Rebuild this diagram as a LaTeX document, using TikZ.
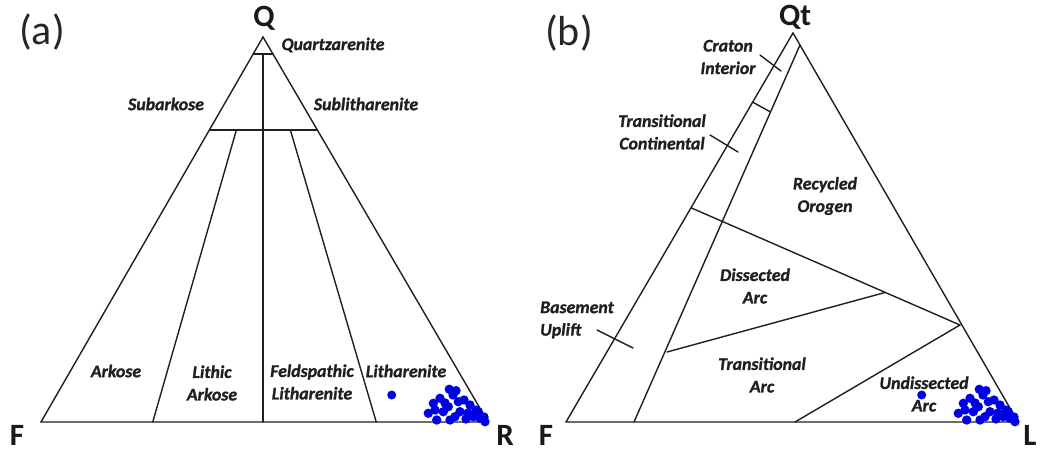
\documentclass[tikz,border=0pt]{standalone}
\usepackage{fontspec}
\setmainfont{Carlito}
\newfontfamily\labfont[FakeBold=1.2]{Carlito}
\usetikzlibrary{calc}
\begin{document}
\begin{tikzpicture}[x=1pt,y=-1pt,
  edge/.style={line width=1.4pt, draw=black!88, line cap=round},
  lab/.style={font=\labfont\fontsize{17.8}{22.5}\selectfont\bfseries\itshape, text=black!88, align=center, inner sep=0pt},
  corner/.style={font=\fontsize{31}{31}\selectfont\bfseries, text=black!90, anchor=base, inner sep=0pt},
  panel/.style={font=\fontsize{42}{42}\selectfont, text=black!85, inner sep=0pt},
  dot/.style={fill=blue!90!black, draw=none},
  cluster/.pic={
    \foreach \dx/\dy in {-38.7/-32.7,-32/-31.3,-48/-23.7,-54.7/-18.7,-59.7/-8.7,-51.3/-2,-39.7/-15.3,-29.7/-20.3,-28/-10.3,-38/-2,-18/-17,-14.7/-5.3,-8/-3.7,-3/-0.3,-44.7/-10.3,-33/-5.3,-9.7/-10.3,-20/-9,-24/-22,-4/-5,-35/-27,-43/-19,-53/-12,-22/-3,-12/-12}
      {\fill[dot] (\dx,\dy) circle (4.7);}
    \fill[dot] (-96.3,-27) circle (4.5);
  }]
\useasboundingbox (0,0) rectangle (1041,452);

% ---------- panel (a) ----------
\coordinate (Qa) at (263,37);
\coordinate (Fa) at (41,422);
\coordinate (Ra) at (488,422);
\coordinate (qL) at ($(Qa)!0.0442!(Fa)$);
\coordinate (qR) at ($(Qa)!0.0442!(Ra)$);
\coordinate (mL) at ($(Qa)!0.2416!(Fa)$);
\coordinate (mR) at ($(Qa)!0.2416!(Ra)$);
\coordinate (vT) at ($(qL)!0.5!(qR)$);
\coordinate (vB) at (vT |- Fa);
\coordinate (aT) at ($(mL)!0.25!(mR)$);
\coordinate (aB) at ($(Fa)!0.25!(Ra)$);
\coordinate (bT) at ($(mL)!0.75!(mR)$);
\coordinate (bB) at ($(Fa)!0.75!(Ra)$);

\draw[edge, line join=miter] (Qa) -- (Fa) -- (Ra) -- cycle;
\draw[edge] (qL) -- (qR);
\draw[edge] (mL) -- (mR);
\draw[edge] (vT) -- (vB);
\draw[edge] (aT) -- (aB);
\draw[edge] (bT) -- (bB);

\node[panel] (pa) at (42,32) {(a)};
\node[corner] (lQ) at (264,27) {Q};
\node[corner] (lF) at (17,445) {F};
\node[corner] (lR) at (505,445) {R};

\node[lab] (t1) at (333,45) {Quartzarenite};
\node[lab] (t2) at (166,104) {Subarkose};
\node[lab] (t3) at (366,104) {Sublitharenite};
\node[lab] (t4) at (116,371) {Arkose};
\node[lab] (t5) at (212,383) {Lithic\\Arkose};
\node[lab] (t6) at (312,382) {Feldspathic\\Litharenite};
\node[lab] (t7) at (406,371) {Litharenite};

\pic at (Ra) {cluster};

% ---------- panel (b) ----------
\coordinate (Qb) at (793,33);
\coordinate (Fb) at (566,422);
\coordinate (Lb) at (1018,422);
\coordinate (iT) at (800,45);
\coordinate (iB) at (634,422);
\coordinate (c1) at (752.5,102);
\coordinate (c2) at (770.5,112);
\coordinate (k1a) at (760,55);
\coordinate (k1b) at (781,71);
\coordinate (k2a) at (710,135);
\coordinate (k2b) at (738,152);
\coordinate (k3a) at (597,330);
\coordinate (k3b) at (633,348);
\coordinate (r1) at (691.5,208);
\coordinate (r2) at (960,325);
\coordinate (d1) at (667,352);
\coordinate (d2) at (885,292.5);
\coordinate (u1) at (795,422);

\draw[edge, line join=miter] (Qb) -- (Fb) -- (Lb) -- cycle;
\draw[edge] (iT) -- (iB);
\draw[edge] (c1) -- (c2);
\draw[edge] (k1a) -- (k1b);
\draw[edge] (k2a) -- (k2b);
\draw[edge] (k3a) -- (k3b);
\draw[edge] (r1) -- (r2);
\draw[edge] (d1) -- (d2);
\draw[edge] (r2) -- (u1);

\node[panel] (pb) at (569,33) {(b)};
\node[corner] (lQt) at (795,26) {Qt};
\node[corner] (lFb) at (546,445) {F};
\node[corner] (lL) at (1030,445) {L};

\node[lab] (s1) at (728,57) {Craton\\Interior};
\node[lab] (s2) at (662,132) {Transitional\\Continental};
\node[lab] (s3) at (825,196) {Recycled\\Orogen};
\node[lab] (s4) at (755,286) {Dissected\\Arc};
\node[lab, align=left, anchor=west] (s5) at (540,320) {Basement\\Uplift};
\node[lab] (s6) at (762,375) {Transitional\\Arc};
\node[lab] (s7) at (924,394) {Undissected\\Arc};

\pic at (Lb) {cluster};
\end{tikzpicture}
\end{document}
